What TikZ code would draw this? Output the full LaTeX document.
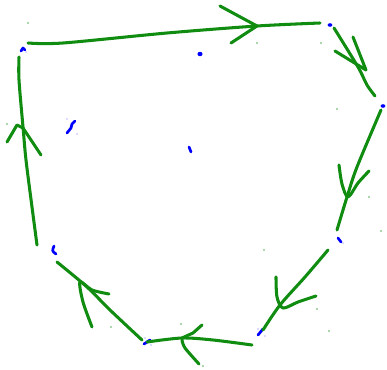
\documentclass[tikz,border=0pt]{standalone}
\usepackage{tikz}
\usetikzlibrary{calc}
\definecolor{penna}{RGB}{16,140,16}
\definecolor{inchiostro}{RGB}{0,0,255}

\begin{document}
\begin{tikzpicture}[x=0.03cm,y=-0.03cm,
  tratto/.style={penna,line width=2.6pt,line cap=round,line join=round},
  segno/.style={inchiostro,line width=2.3pt,line cap=round,line join=round}]
  \useasboundingbox (0,0) rectangle (387,370);
  % vertici (segni blu)
  \coordinate (a) at (23,50);
  \coordinate (b) at (200,54);
  \coordinate (c) at (330,25);
  \coordinate (d) at (383,106);
  \coordinate (e) at (340,240);
  \coordinate (f) at (261,332);
  \coordinate (g) at (147,342);
  \coordinate (h) at (54,250);
  \coordinate (i) at (71,127);
  \coordinate (j) at (190,150);
  \draw[segno] ($(a)+(-2,1)$)--($(a)+(0,-2)$)--($(a)+(2,0)$);
  \fill[inchiostro] (b) ellipse (2.6 and 2.2);
  \fill[inchiostro] (c) ellipse (2.4 and 1.8);
  \fill[inchiostro] (d) ellipse (2.4 and 1.8);
  \draw[segno] ($(e)+(-2,-2)$)--($(e)+(1,2)$);
  \draw[segno] ($(f)+(2,-3)$)--($(f)+(-3,3)$);
  \draw[segno] ($(g)+(-3,2)$)--($(g)+(3,-2)$);
  \draw[segno] ($(h)+(0,-4)$) .. controls ($(h)+(-2,1)$) .. ($(h)+(2,4)$);
  \draw[segno] ($(i)+(-4,6)$)--($(i)+(0,1)$)--($(i)+(1,-3)$)--($(i)+(4,-6)$);
  \draw[segno] ($(j)+(-1,-3)$)--($(j)+(1,2)$);
  \foreach \v/\dx/\dy in {a/3/2,e/3/3,f/-3/-3,f/4/4,g/-2/-4,g/4/3,i/-4/-8,i/6/7}
    \fill[inchiostro!60] ($(\v)+(\dx,\dy)$) circle (0.7);
  % lati (tratti verdi)
  \draw[tratto] plot[smooth] coordinates {(28,43) (63,43) (167,33) (257,26) (320,23)};
  \draw[tratto] (220,6)--(257,26)--(231,43);
  \draw[tratto] plot[smooth] coordinates {(334,28) (358,67) (367,85) (375,96)};
  \draw[tratto] (353,37)--(366,70)--(335,51);
  \draw[tratto] plot[smooth] coordinates {(381,110) (357,167) (347,197) (337,230)};
  \draw[tratto] plot[smooth] coordinates {(339,165) (342,184) (348,197) (358,183) (369,171)};
  \draw[tratto] plot[smooth] coordinates {(328,250) (305,277) (280,305) (263,330)};
  \draw[tratto] plot[smooth] coordinates {(276,277) (277,297) (283,308) (298,302) (316,296)};
  \draw[tratto] plot[smooth] coordinates {(252,345) (213,340) (182,338) (147,342)};
  \draw[tratto] (202,325)--(193,333)--(182,338);
  \draw[tratto] plot[smooth] coordinates {(199,364) (185,348) (182,340)};
  \draw[tratto] plot[smooth] coordinates {(57,262) (87,287) (110,310) (142,340)};
  \draw[tratto] plot[smooth] coordinates {(109,294) (92,290) (80,282) (83,302) (92,327)};
  \draw[tratto] plot[smooth] coordinates {(37,245) (32,207) (26,160) (23,127) (19,80) (19,57)};
  \draw[tratto] (7,142)--(17,125)--(23,128)--(41,155);
  % macchioline
  \foreach \p in {(28,23),(257,43),(321,43),(337,109),(7,124),(369,197),(381,231),
                  (264,250),(317,309),(329,331),(181,324),(111,327),(203,366)}
    \fill[penna!70] \p circle (0.8);
\end{tikzpicture}
\end{document}
